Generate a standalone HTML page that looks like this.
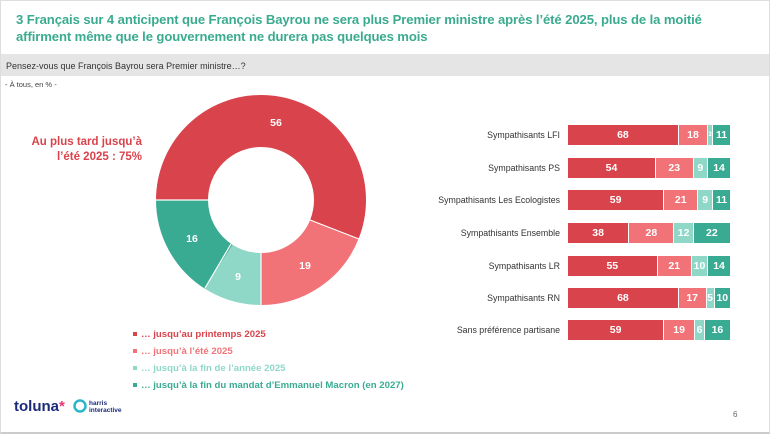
<!DOCTYPE html>
<html><head><meta charset="utf-8"><style>
*{margin:0;padding:0;box-sizing:border-box}
body{width:770px;height:434px;background:#fff;font-family:"Liberation Sans",sans-serif;position:relative;overflow:hidden}
.frame{position:absolute;left:0;top:0;width:770px;height:434px;border:1px solid #ddd;border-bottom:2px solid #ccc}
.title{position:absolute;left:16px;top:11px;color:#3aab8f;font-weight:bold;font-size:13.1px;line-height:17px;letter-spacing:-0.1px}
.band{position:absolute;left:1px;top:54px;width:768px;height:22px;background:#e5e5e5;font-size:9px;color:#333;padding:7px 0 0 5px}
.sub{position:absolute;left:5px;top:80px;font-size:7.5px;color:#444}
.big{position:absolute;left:20px;top:135px;width:122px;text-align:right;color:#d9434b;font-weight:bold;font-size:11.5px;line-height:15px}
.row{position:absolute;left:428px;width:320px;height:20px;display:flex;align-items:center}
.lab{width:140px;text-align:right;font-size:8.8px;color:#333;padding-right:8px}
.bar{display:flex;width:163px;height:20px}
.bar div{height:20px;color:#fff;font-weight:bold;font-size:10.5px;display:flex;align-items:center;justify-content:center;border-right:1px solid #fff;overflow:hidden}
.a{background:#d9434b}.b{background:#f17377}.c{background:#8fd8c8}.d{background:#3aab93}
.leg{position:absolute;left:133px;font-size:9.6px;font-weight:bold}
.leg span{display:inline-block;width:4px;height:4px;margin-right:4px;vertical-align:middle}
.logo{position:absolute;left:14px;top:398px;color:#1b2a7a;font-size:15px;font-weight:bold}
.page{position:absolute;left:733px;top:410px;font-size:8px;color:#666}
</style></head><body>
<div class="frame"></div>
<div class="title">3 Français sur 4 anticipent que François Bayrou ne sera plus Premier ministre après l’été 2025, plus de la moitié<br>affirment même que le gouvernement ne durera pas quelques mois</div>
<div class="band">Pensez-vous que François Bayrou sera Premier ministre…?</div>
<div class="sub">- À tous, en % -</div>
<div class="big">Au plus tard jusqu’à l’été 2025 : 75%</div>
<svg style="position:absolute;left:0;top:0" width="770" height="434">
<g transform="translate(261,200) rotate(180)" fill="none" stroke-width="52">
<circle r="79" stroke="#d9434b" stroke-dasharray="277.96 1000" stroke-dashoffset="0"/>
<circle r="79" stroke="#f17377" stroke-dasharray="94.31 1000" stroke-dashoffset="-277.96"/>
<circle r="79" stroke="#8fd8c8" stroke-dasharray="44.67 1000" stroke-dashoffset="-372.27"/>
<circle r="79" stroke="#3aab93" stroke-dasharray="79.42 1000" stroke-dashoffset="-416.94"/>
</g>
<g stroke="#fff" stroke-width="1.2">
<line x1="156" y1="200" x2="209" y2="200"/>
<line x1="261" y1="253" x2="261" y2="305"/>
<line x1="310" y1="220" x2="359" y2="239"/>
<line x1="231" y1="244" x2="205" y2="288"/>
</g>
<g fill="#fff" font-weight="bold" font-size="10.5" text-anchor="middle" font-family="Liberation Sans">
<text x="276" y="126">56</text><text x="305" y="269">19</text><text x="238" y="280">9</text><text x="192" y="242">16</text>
</g>
</svg>
<div class="row" style="top:125px"><div class="lab">Sympathisants LFI</div><div class="bar"><div class="a" style="width:68%">68</div><div class="b" style="width:18%">18</div><div class="c" style="width:3%;font-size:6px">3</div><div class="d" style="width:11%">11</div></div></div>
<div class="row" style="top:158px"><div class="lab">Sympathisants PS</div><div class="bar"><div class="a" style="width:54%">54</div><div class="b" style="width:23%">23</div><div class="c" style="width:9%">9</div><div class="d" style="width:14%">14</div></div></div>
<div class="row" style="top:190px"><div class="lab">Sympathisants Les Ecologistes</div><div class="bar"><div class="a" style="width:59%">59</div><div class="b" style="width:21%">21</div><div class="c" style="width:9%">9</div><div class="d" style="width:11%">11</div></div></div>
<div class="row" style="top:223px"><div class="lab">Sympathisants Ensemble</div><div class="bar"><div class="a" style="width:37.6%">38</div><div class="b" style="width:27.7%">28</div><div class="c" style="width:11.9%">12</div><div class="d" style="width:22.8%">22</div></div></div>
<div class="row" style="top:256px"><div class="lab">Sympathisants LR</div><div class="bar"><div class="a" style="width:55%">55</div><div class="b" style="width:21%">21</div><div class="c" style="width:10%">10</div><div class="d" style="width:14%">14</div></div></div>
<div class="row" style="top:288px"><div class="lab">Sympathisants RN</div><div class="bar"><div class="a" style="width:68%">68</div><div class="b" style="width:17%">17</div><div class="c" style="width:5%">5</div><div class="d" style="width:10%">10</div></div></div>
<div class="row" style="top:320px"><div class="lab">Sans préférence partisane</div><div class="bar"><div class="a" style="width:59%">59</div><div class="b" style="width:19%">19</div><div class="c" style="width:6%">6</div><div class="d" style="width:16%">16</div></div></div>
<div class="leg" style="top:329px;color:#d9434b"><span style="background:#d9434b"></span>… jusqu’au printemps 2025</div>
<div class="leg" style="top:346px;color:#f17377"><span style="background:#f17377"></span>… jusqu’à l’été 2025</div>
<div class="leg" style="top:363px;color:#8fd8c8"><span style="background:#8fd8c8"></span>… jusqu’à la fin de l’année 2025</div>
<div class="leg" style="top:380px;color:#3aab93"><span style="background:#3aab93"></span>… jusqu’à la fin du mandat d’Emmanuel Macron (en 2027)</div>
<div class="logo">toluna<span style="color:#e6336f">*</span></div>
<svg style="position:absolute;left:73px;top:399px" width="60" height="16"><circle cx="7" cy="7" r="5.5" fill="none" stroke="#2bb7c9" stroke-width="2.5"/><text x="16" y="6" font-size="6.5" fill="#1b2a7a" font-family="Liberation Sans" font-weight="bold">harris</text><text x="16" y="13" font-size="6.5" fill="#1b2a7a" font-family="Liberation Sans" font-weight="bold">interactive</text></svg>
<div class="page">6</div>
</body></html>
